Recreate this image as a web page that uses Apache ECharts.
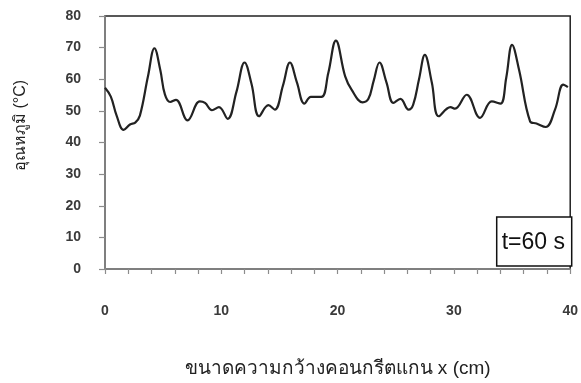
<!DOCTYPE html>
<html>
<head>
<meta charset="utf-8">
<script src="https://cdn.jsdelivr.net/npm/echarts@6/dist/echarts.min.js"></script>
<style>
  html, body { margin: 0; padding: 0; background: #fff; }
  #chart { width: 581px; height: 383px; }
</style>
</head>
<body>
<div id="chart"></div>
<script>
// Position across the concrete width (cm)
const positions = [0, 0.5, 1.0, 1.6, 2.15, 2.6, 3.0, 3.7, 4.25, 4.75, 5.15, 5.6, 6.1, 7.1, 8.15, 8.6, 9.2, 9.8, 10.55,
  11.3, 12.0, 12.6, 13.25, 14.05, 14.6, 15.3, 15.9, 16.5, 17.15, 17.7, 18.6, 19.2, 19.85, 20.65, 21.2, 22.15, 22.65,
  23.1, 23.6, 24.2, 24.8, 25.4, 26.1, 26.5, 27.0, 27.5, 28.1, 28.7, 29.7, 30.1, 31.1, 32.25, 33.25, 34.0, 34.5,
  35.0, 35.6, 36.55, 37.1, 37.9, 38.7, 39.4, 39.8];
// Temperature at t = 60 s (°C)
const temps = [57.3, 54.5, 48.5, 44.0, 45.7, 46.3, 48.5, 61.0, 69.8, 63.0, 55.2, 52.8, 53.5, 47.0, 53.0, 52.5, 50.2, 51.2, 47.5,
  56.0, 65.3, 58.5, 48.3, 51.8, 50.4, 58.0, 65.3, 59.0, 52.3, 54.4, 54.4, 62.0, 72.2, 60.9, 56.7, 52.7, 53.8,
  59.5, 65.3, 59.0, 52.5, 53.8, 50.4, 52.0, 60.0, 67.7, 59.0, 48.3, 51.2, 50.7, 55.1, 47.8, 53.0, 52.3, 60.5,
  70.9, 63.0, 46.7, 46.0, 44.9, 50.5, 58.3, 57.5];
const xTicks = [0, 10, 20, 30, 40];
const yTicks = [0, 10, 20, 30, 40, 50, 60, 70, 80];
const seriesLabel = 't=60 s';
const xTitle = 'ขนาดความกว้างคอนกรีตแกน x (cm)';
const yTitle = 'อุณหภูมิ (°C)';

const points = positions.map((x, i) => [x, temps[i]]);
const labelFont = { fontFamily: 'Liberation Sans, Arial, sans-serif', fontSize: 14, fontWeight: 'bold', color: '#3a3a3a' };
const axisGray = '#8c8c8c';

const chart = echarts.init(document.getElementById('chart'), null, { renderer: 'canvas' });
chart.setOption({
  animation: false,
  backgroundColor: '#fff',
  grid: { left: 105, right: 10, top: 16, bottom: 113, show: true, borderColor: '#222', borderWidth: 1.5, backgroundColor: 'transparent' },
  xAxis: {
    type: 'value', min: xTicks[0], max: xTicks[xTicks.length - 1], interval: 10,
    axisLine: { lineStyle: { color: axisGray, width: 1.5 } },
    axisTick: { length: 5, lineStyle: { color: axisGray, width: 1.2 } },
    minorTick: { show: true, splitNumber: 5, length: 5, lineStyle: { color: axisGray, width: 1.2 } },
    splitLine: { show: false },
    axisLabel: Object.assign({ margin: 35 }, labelFont),
    name: xTitle, nameLocation: 'middle', nameGap: 90,
    nameTextStyle: { fontFamily: 'sans-serif', fontSize: 19, color: '#222' }
  },
  yAxis: {
    type: 'value', min: yTicks[0], max: yTicks[yTicks.length - 1], interval: 10,
    axisLine: { show: true, lineStyle: { color: axisGray, width: 1.5 } },
    axisTick: { show: true, length: 6, lineStyle: { color: axisGray, width: 1.2 } },
    splitLine: { show: false },
    axisLabel: Object.assign({ margin: 24 }, labelFont),
    name: yTitle, nameLocation: 'middle', nameGap: 76, nameRotate: 90,
    nameTextStyle: { fontFamily: 'sans-serif', fontSize: 16, color: '#222', padding: [0, 0, 0, 34] }
  },
  title: {
    text: seriesLabel, right: 9, bottom: 117,
    borderColor: '#111', borderWidth: 1.5, padding: [14, 7, 12, 5],
    backgroundColor: '#fff',
    textStyle: { fontFamily: 'Liberation Sans, Arial, sans-serif', fontSize: 23, fontWeight: 'normal', color: '#111' }
  },
  series: [{
    type: 'line', data: points, smooth: 0.4, symbol: 'none',
    lineStyle: { color: '#222', width: 2.2 }
  }]
});
</script>
</body>
</html>
